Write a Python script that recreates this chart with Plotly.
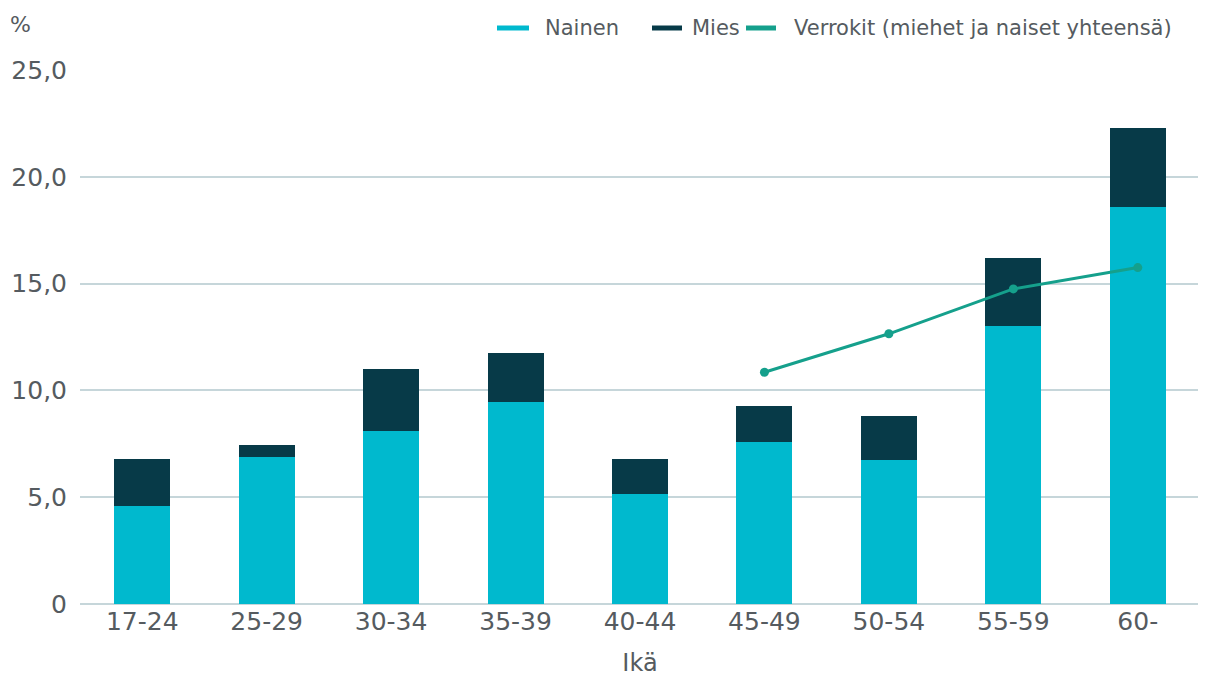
import plotly.graph_objects as go

ages = ["17-24", "25-29", "30-34", "35-39", "40-44", "45-49", "50-54", "55-59", "60-"]
nainen = [4.6, 6.9, 8.1, 9.45, 5.15, 7.6, 6.75, 13.0, 18.6]
mies = [2.2, 0.55, 2.9, 2.3, 1.65, 1.65, 2.05, 3.2, 3.7]
verrokit_ages = ["45-49", "50-54", "55-59", "60-"]
verrokit = [10.85, 12.65, 14.75, 15.75]
y_ticks = [0, 5, 10, 15, 20, 25]
y_ticktext = ["0", "5,0", "10,0", "15,0", "20,0", "25,0"]

C_NAINEN = "#00B9CE"
C_MIES = "#073A48"
C_VERROKIT = "#15A08C"
TEXT = "#555b60"
FONT = "DejaVu Sans"

# the page body has an 8px margin, so screen = figure + 8
OFF = 8
PL, PR, PT, PB = 80, 1200, 70, 604   # plot area on screen


def px(x):
    return (x - PL) / (PR - PL)


def py(y):
    return (PB - y) / (PB - PT)


fig = go.Figure()
fig.add_trace(go.Bar(x=ages, y=nainen, name="Nainen", marker_color=C_NAINEN,
                     marker_line_width=0))
fig.add_trace(go.Bar(x=ages, y=mies, name="Mies", marker_color=C_MIES,
                     marker_line_width=0))
fig.add_trace(go.Scatter(x=verrokit_ages, y=verrokit, mode="lines+markers",
                         line=dict(color=C_VERROKIT, width=3),
                         marker=dict(size=9, color=C_VERROKIT),
                         name="Verrokit (miehet ja naiset yhteensä)"))

# legend as line swatches + text above the plot
legend_items = [("Nainen", C_NAINEN, 497, 529, 543),
                ("Mies", C_MIES, 652, 682, 690),
                ("Verrokit (miehet ja naiset yhteensä)", C_VERROKIT, 746, 776, 792)]
shapes, annotations = [], []
for name, color, x0, x1, tx in legend_items:
    shapes.append(dict(type="line", xref="paper", yref="paper",
                       x0=px(x0), x1=px(x1), y0=py(28), y1=py(28),
                       line=dict(color=color, width=5)))
    annotations.append(dict(text=name, xref="paper", yref="paper", x=px(tx), y=py(28),
                            xanchor="left", yanchor="middle", showarrow=False,
                            font=dict(size=21, color=TEXT)))
annotations.append(dict(text="%", xref="paper", yref="paper", x=px(8), y=py(25),
                        xanchor="left", yanchor="middle", showarrow=False,
                        font=dict(size=22, color=TEXT)))

W, H = 1206, 684
fig.update_layout(
    barmode="stack",
    bargap=0.55,
    width=W,
    height=H,
    showlegend=False,
    plot_bgcolor="white",
    paper_bgcolor="white",
    font=dict(family=FONT, color=TEXT, size=22),
    margin=dict(l=PL - OFF, r=W - (PR - OFF), t=PT - OFF, b=H - (PB - OFF),
                autoexpand=False),
    xaxis=dict(title=dict(text="Ikä", standoff=19, font=dict(size=24)),
               showgrid=False, tickfont=dict(size=25), ticks="", showline=False,
               automargin=False),
    yaxis=dict(range=[0, 25], tickvals=y_ticks, ticktext=y_ticktext, showgrid=True,
               gridcolor="#c6d6da", gridwidth=1.5, zeroline=True,
               zerolinecolor="#c6d6da", zerolinewidth=1.5,
               tickfont=dict(size=25), ticklabelstandoff=12, automargin=False),
    shapes=shapes,
    annotations=annotations,
)

fig.write_html("out.html")
